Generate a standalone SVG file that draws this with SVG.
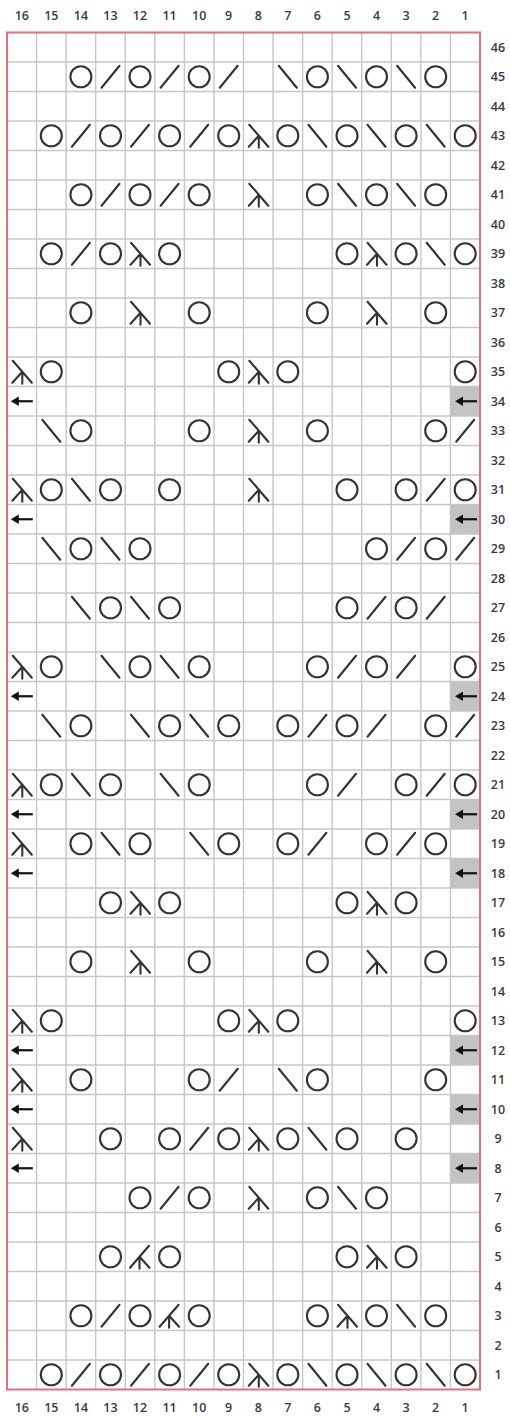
<svg xmlns="http://www.w3.org/2000/svg" xmlns:xlink="http://www.w3.org/1999/xlink" width="510" height="1416" viewBox="0 0 510 1416">
<style>
.num{font-family:"Open Sans","Liberation Sans",sans-serif;font-size:12.5px;font-weight:600;fill:#3a3a3a;text-anchor:middle}
.sym{fill:none;stroke:#333;stroke-width:2.1;stroke-linecap:round}
.grid{fill:none;stroke:#c6c6c6;stroke-width:1.4}
.shade{fill:#c3c3c3}
</style>
<defs>
<circle id="o" class="sym" cx="0" cy="0" r="10.5"/>
<path id="k" class="sym" d="M-9,11 L9,-11"/>
<path id="s" class="sym" d="M-9,-11 L9,11"/>
<path id="d" class="sym" d="M-9,-11 L10,11 M0.5,0 L-9.5,11 M0.5,0 V12"/>
<path id="d2" class="sym" d="M9,-11 L-10,11 M-0.5,0 L9.5,11 M-0.5,0 V12"/>
<g id="a"><path d="M-4,0 H11" stroke="#111" stroke-width="2.2"/><polygon points="-11,0 -3,-4.8 -3,4.8" fill="#111"/></g>
</defs>
<rect width="510" height="1416" fill="#fff"/>
<g id="shading">
<rect class="shade" x="450.4" y="386.5" width="29.6" height="29.5"/>
<rect class="shade" x="450.4" y="504.5" width="29.6" height="29.5"/>
<rect class="shade" x="450.4" y="681.5" width="29.6" height="29.5"/>
<rect class="shade" x="450.4" y="799.5" width="29.6" height="29.5"/>
<rect class="shade" x="450.4" y="858.5" width="29.6" height="29.5"/>
<rect class="shade" x="450.4" y="1035.5" width="29.6" height="29.5"/>
<rect class="shade" x="450.4" y="1094.5" width="29.6" height="29.5"/>
<rect class="shade" x="450.4" y="1153.5" width="29.6" height="29.5"/>
</g>
<g id="grid">
<path class="grid" d="M36.56,32.5V1389.5M66.13,32.5V1389.5M95.69,32.5V1389.5M125.25,32.5V1389.5M154.81,32.5V1389.5M184.38,32.5V1389.5M213.94,32.5V1389.5M243.5,32.5V1389.5M273.06,32.5V1389.5M302.63,32.5V1389.5M332.19,32.5V1389.5M361.75,32.5V1389.5M391.31,32.5V1389.5M420.88,32.5V1389.5M450.44,32.5V1389.5"/>
<path class="grid" d="M7,62H480M7,91.5H480M7,121H480M7,150.5H480M7,180H480M7,209.5H480M7,239H480M7,268.5H480M7,298H480M7,327.5H480M7,357H480M7,386.5H480M7,416H480M7,445.5H480M7,475H480M7,504.5H480M7,534H480M7,563.5H480M7,593H480M7,622.5H480M7,652H480M7,681.5H480M7,711H480M7,740.5H480M7,770H480M7,799.5H480M7,829H480M7,858.5H480M7,888H480M7,917.5H480M7,947H480M7,976.5H480M7,1006H480M7,1035.5H480M7,1065H480M7,1094.5H480M7,1124H480M7,1153.5H480M7,1183H480M7,1212.5H480M7,1242H480M7,1271.5H480M7,1301H480M7,1330.5H480M7,1360H480"/>
<rect x="7" y="32.5" width="473" height="1357" fill="none" stroke="#e07079" stroke-width="2"/>
</g>
<g id="col-numbers-top">
<text class="num" x="21.8" y="20">16</text><text class="num" x="51.3" y="20">15</text><text class="num" x="80.9" y="20">14</text><text class="num" x="110.5" y="20">13</text><text class="num" x="140" y="20">12</text><text class="num" x="169.6" y="20">11</text><text class="num" x="199.2" y="20">10</text><text class="num" x="228.7" y="20">9</text><text class="num" x="258.3" y="20">8</text><text class="num" x="287.8" y="20">7</text><text class="num" x="317.4" y="20">6</text><text class="num" x="347" y="20">5</text><text class="num" x="376.5" y="20">4</text><text class="num" x="406.1" y="20">3</text><text class="num" x="435.7" y="20">2</text><text class="num" x="465.2" y="20">1</text>
</g>
<g id="col-numbers-bottom">
<text class="num" x="21.8" y="1412">16</text><text class="num" x="51.3" y="1412">15</text><text class="num" x="80.9" y="1412">14</text><text class="num" x="110.5" y="1412">13</text><text class="num" x="140" y="1412">12</text><text class="num" x="169.6" y="1412">11</text><text class="num" x="199.2" y="1412">10</text><text class="num" x="228.7" y="1412">9</text><text class="num" x="258.3" y="1412">8</text><text class="num" x="287.8" y="1412">7</text><text class="num" x="317.4" y="1412">6</text><text class="num" x="347" y="1412">5</text><text class="num" x="376.5" y="1412">4</text><text class="num" x="406.1" y="1412">3</text><text class="num" x="435.7" y="1412">2</text><text class="num" x="465.2" y="1412">1</text>
</g>
<g id="row-numbers">
<text class="num" x="498" y="51.5">46</text><text class="num" x="498" y="81">45</text><text class="num" x="498" y="110.5">44</text><text class="num" x="498" y="140">43</text><text class="num" x="498" y="169.5">42</text><text class="num" x="498" y="199">41</text><text class="num" x="498" y="228.5">40</text><text class="num" x="498" y="258">39</text><text class="num" x="498" y="287.5">38</text><text class="num" x="498" y="317">37</text><text class="num" x="498" y="346.5">36</text><text class="num" x="498" y="376">35</text><text class="num" x="498" y="405.5">34</text><text class="num" x="498" y="435">33</text><text class="num" x="498" y="464.5">32</text><text class="num" x="498" y="494">31</text><text class="num" x="498" y="523.5">30</text><text class="num" x="498" y="553">29</text><text class="num" x="498" y="582.5">28</text><text class="num" x="498" y="612">27</text><text class="num" x="498" y="641.5">26</text><text class="num" x="498" y="671">25</text><text class="num" x="498" y="700.5">24</text><text class="num" x="498" y="730">23</text><text class="num" x="498" y="759.5">22</text><text class="num" x="498" y="789">21</text><text class="num" x="498" y="818.5">20</text><text class="num" x="498" y="848">19</text><text class="num" x="498" y="877.5">18</text><text class="num" x="498" y="907">17</text><text class="num" x="498" y="936.5">16</text><text class="num" x="498" y="966">15</text><text class="num" x="498" y="995.5">14</text><text class="num" x="498" y="1025">13</text><text class="num" x="498" y="1054.5">12</text><text class="num" x="498" y="1084">11</text><text class="num" x="498" y="1113.5">10</text><text class="num" x="498" y="1143">9</text><text class="num" x="498" y="1172.5">8</text><text class="num" x="498" y="1202">7</text><text class="num" x="498" y="1231.5">6</text><text class="num" x="498" y="1261">5</text><text class="num" x="498" y="1290.5">4</text><text class="num" x="498" y="1320">3</text><text class="num" x="498" y="1349.5">2</text><text class="num" x="498" y="1379">1</text>
</g>
<g id="stitches">
<g id="row45" transform="translate(0,76.75)"><use href="#o" x="80.9"/><use href="#k" x="110.5"/><use href="#o" x="140"/><use href="#k" x="169.6"/><use href="#o" x="199.2"/><use href="#k" x="228.7"/><use href="#s" x="287.8"/><use href="#o" x="317.4"/><use href="#s" x="347"/><use href="#o" x="376.5"/><use href="#s" x="406.1"/><use href="#o" x="435.7"/></g>
<g id="row43" transform="translate(0,135.75)"><use href="#o" x="51.3"/><use href="#k" x="80.9"/><use href="#o" x="110.5"/><use href="#k" x="140"/><use href="#o" x="169.6"/><use href="#k" x="199.2"/><use href="#o" x="228.7"/><use href="#d" x="258.3"/><use href="#o" x="287.8"/><use href="#s" x="317.4"/><use href="#o" x="347"/><use href="#s" x="376.5"/><use href="#o" x="406.1"/><use href="#s" x="435.7"/><use href="#o" x="465.2"/></g>
<g id="row41" transform="translate(0,194.75)"><use href="#o" x="80.9"/><use href="#k" x="110.5"/><use href="#o" x="140"/><use href="#k" x="169.6"/><use href="#o" x="199.2"/><use href="#d" x="258.3"/><use href="#o" x="317.4"/><use href="#s" x="347"/><use href="#o" x="376.5"/><use href="#s" x="406.1"/><use href="#o" x="435.7"/></g>
<g id="row39" transform="translate(0,253.75)"><use href="#o" x="51.3"/><use href="#k" x="80.9"/><use href="#o" x="110.5"/><use href="#d" x="140"/><use href="#o" x="169.6"/><use href="#o" x="347"/><use href="#d" x="376.5"/><use href="#o" x="406.1"/><use href="#s" x="435.7"/><use href="#o" x="465.2"/></g>
<g id="row37" transform="translate(0,312.75)"><use href="#o" x="80.9"/><use href="#d" x="140"/><use href="#o" x="199.2"/><use href="#o" x="317.4"/><use href="#d" x="376.5"/><use href="#o" x="435.7"/></g>
<g id="row35" transform="translate(0,371.75)"><use href="#d" x="21.8"/><use href="#o" x="51.3"/><use href="#o" x="228.7"/><use href="#d" x="258.3"/><use href="#o" x="287.8"/><use href="#o" x="465.2"/></g>
<g id="row34" transform="translate(0,401.25)"><use href="#a" x="21.8"/><use href="#a" x="466"/></g>
<g id="row33" transform="translate(0,430.75)"><use href="#s" x="51.3"/><use href="#o" x="80.9"/><use href="#o" x="199.2"/><use href="#d" x="258.3"/><use href="#o" x="317.4"/><use href="#o" x="435.7"/><use href="#k" x="465.2"/></g>
<g id="row31" transform="translate(0,489.75)"><use href="#d" x="21.8"/><use href="#o" x="51.3"/><use href="#s" x="80.9"/><use href="#o" x="110.5"/><use href="#o" x="169.6"/><use href="#d" x="258.3"/><use href="#o" x="347"/><use href="#o" x="406.1"/><use href="#k" x="435.7"/><use href="#o" x="465.2"/></g>
<g id="row30" transform="translate(0,519.25)"><use href="#a" x="21.8"/><use href="#a" x="466"/></g>
<g id="row29" transform="translate(0,548.75)"><use href="#s" x="51.3"/><use href="#o" x="80.9"/><use href="#s" x="110.5"/><use href="#o" x="140"/><use href="#o" x="376.5"/><use href="#k" x="406.1"/><use href="#o" x="435.7"/><use href="#k" x="465.2"/></g>
<g id="row27" transform="translate(0,607.75)"><use href="#s" x="80.9"/><use href="#o" x="110.5"/><use href="#s" x="140"/><use href="#o" x="169.6"/><use href="#o" x="347"/><use href="#k" x="376.5"/><use href="#o" x="406.1"/><use href="#k" x="435.7"/></g>
<g id="row25" transform="translate(0,666.75)"><use href="#d" x="21.8"/><use href="#o" x="51.3"/><use href="#s" x="110.5"/><use href="#o" x="140"/><use href="#s" x="169.6"/><use href="#o" x="199.2"/><use href="#o" x="317.4"/><use href="#k" x="347"/><use href="#o" x="376.5"/><use href="#k" x="406.1"/><use href="#o" x="465.2"/></g>
<g id="row24" transform="translate(0,696.25)"><use href="#a" x="21.8"/><use href="#a" x="466"/></g>
<g id="row23" transform="translate(0,725.75)"><use href="#s" x="51.3"/><use href="#o" x="80.9"/><use href="#s" x="140"/><use href="#o" x="169.6"/><use href="#s" x="199.2"/><use href="#o" x="228.7"/><use href="#o" x="287.8"/><use href="#k" x="317.4"/><use href="#o" x="347"/><use href="#k" x="376.5"/><use href="#o" x="435.7"/><use href="#k" x="465.2"/></g>
<g id="row21" transform="translate(0,784.75)"><use href="#d" x="21.8"/><use href="#o" x="51.3"/><use href="#s" x="80.9"/><use href="#o" x="110.5"/><use href="#s" x="169.6"/><use href="#o" x="199.2"/><use href="#o" x="317.4"/><use href="#k" x="347"/><use href="#o" x="406.1"/><use href="#k" x="435.7"/><use href="#o" x="465.2"/></g>
<g id="row20" transform="translate(0,814.25)"><use href="#a" x="21.8"/><use href="#a" x="466"/></g>
<g id="row19" transform="translate(0,843.75)"><use href="#d" x="21.8"/><use href="#o" x="80.9"/><use href="#s" x="110.5"/><use href="#o" x="140"/><use href="#s" x="199.2"/><use href="#o" x="228.7"/><use href="#o" x="287.8"/><use href="#k" x="317.4"/><use href="#o" x="376.5"/><use href="#k" x="406.1"/><use href="#o" x="435.7"/></g>
<g id="row18" transform="translate(0,873.25)"><use href="#a" x="21.8"/><use href="#a" x="466"/></g>
<g id="row17" transform="translate(0,902.75)"><use href="#o" x="110.5"/><use href="#d" x="140"/><use href="#o" x="169.6"/><use href="#o" x="347"/><use href="#d" x="376.5"/><use href="#o" x="406.1"/></g>
<g id="row15" transform="translate(0,961.75)"><use href="#o" x="80.9"/><use href="#d" x="140"/><use href="#o" x="199.2"/><use href="#o" x="317.4"/><use href="#d" x="376.5"/><use href="#o" x="435.7"/></g>
<g id="row13" transform="translate(0,1020.75)"><use href="#d" x="21.8"/><use href="#o" x="51.3"/><use href="#o" x="228.7"/><use href="#d" x="258.3"/><use href="#o" x="287.8"/><use href="#o" x="465.2"/></g>
<g id="row12" transform="translate(0,1050.25)"><use href="#a" x="21.8"/><use href="#a" x="466"/></g>
<g id="row11" transform="translate(0,1079.75)"><use href="#d" x="21.8"/><use href="#o" x="80.9"/><use href="#o" x="199.2"/><use href="#k" x="228.7"/><use href="#s" x="287.8"/><use href="#o" x="317.4"/><use href="#o" x="435.7"/></g>
<g id="row10" transform="translate(0,1109.25)"><use href="#a" x="21.8"/><use href="#a" x="466"/></g>
<g id="row9" transform="translate(0,1138.75)"><use href="#d" x="21.8"/><use href="#o" x="110.5"/><use href="#o" x="169.6"/><use href="#k" x="199.2"/><use href="#o" x="228.7"/><use href="#d" x="258.3"/><use href="#o" x="287.8"/><use href="#s" x="317.4"/><use href="#o" x="347"/><use href="#o" x="406.1"/></g>
<g id="row8" transform="translate(0,1168.25)"><use href="#a" x="21.8"/><use href="#a" x="466"/></g>
<g id="row7" transform="translate(0,1197.75)"><use href="#o" x="140"/><use href="#k" x="169.6"/><use href="#o" x="199.2"/><use href="#d" x="258.3"/><use href="#o" x="317.4"/><use href="#s" x="347"/><use href="#o" x="376.5"/></g>
<g id="row5" transform="translate(0,1256.75)"><use href="#o" x="110.5"/><use href="#d2" x="140"/><use href="#o" x="169.6"/><use href="#o" x="347"/><use href="#d" x="376.5"/><use href="#o" x="406.1"/></g>
<g id="row3" transform="translate(0,1315.75)"><use href="#o" x="80.9"/><use href="#k" x="110.5"/><use href="#o" x="140"/><use href="#d2" x="169.6"/><use href="#o" x="199.2"/><use href="#o" x="317.4"/><use href="#d" x="347"/><use href="#o" x="376.5"/><use href="#s" x="406.1"/><use href="#o" x="435.7"/></g>
<g id="row1" transform="translate(0,1374.75)"><use href="#o" x="51.3"/><use href="#k" x="80.9"/><use href="#o" x="110.5"/><use href="#k" x="140"/><use href="#o" x="169.6"/><use href="#k" x="199.2"/><use href="#o" x="228.7"/><use href="#d" x="258.3"/><use href="#o" x="287.8"/><use href="#s" x="317.4"/><use href="#o" x="347"/><use href="#s" x="376.5"/><use href="#o" x="406.1"/><use href="#s" x="435.7"/><use href="#o" x="465.2"/></g>
</g>
</svg>
